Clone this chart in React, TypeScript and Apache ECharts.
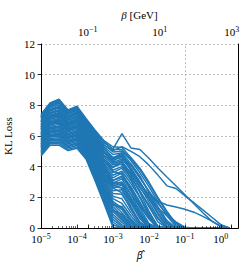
import { useEffect, useRef } from 'react';
import * as echarts from 'echarts';

// β̂ sample positions (quarter-decade steps)
const betaHat = [1e-5, 1.778e-5, 3.162e-5, 5.623e-5, 1e-4, 1.778e-4, 3.162e-4, 5.623e-4, 1e-3, 1.778e-3, 3.162e-3, 5.623e-3, 1e-2, 1.778e-2, 3.162e-2, 5.623e-2, 0.1, 0.1778, 0.3162, 0.5623, 1, 1.778];

// KL loss of each run
const r00 = [4.70, 5.40, 5.40, 5.05, 5.20, 4.50, 3.10, 1.60, 0.05, 0, 0, 0, 0, 0, 0, 0, 0, 0, 0, 0, 0, 0];
const r01 = [4.79, 5.49, 5.50, 5.13, 5.29, 4.59, 3.21, 1.73, 0.22, 0, 0, 0, 0, 0, 0, 0, 0, 0, 0, 0, 0, 0];
const r02 = [4.88, 5.58, 5.60, 5.22, 5.38, 4.67, 3.31, 1.87, 0.39, 0, 0, 0, 0, 0, 0, 0, 0, 0, 0, 0, 0, 0];
const r03 = [4.96, 5.67, 5.69, 5.31, 5.47, 4.76, 3.42, 2.00, 0.56, 0.10, 0, 0, 0, 0, 0, 0, 0, 0, 0, 0, 0, 0];
const r04 = [5.05, 5.75, 5.79, 5.39, 5.55, 4.84, 3.53, 2.13, 0.73, 0.20, 0, 0, 0, 0, 0, 0, 0, 0, 0, 0, 0, 0];
const r05 = [5.13, 5.84, 5.88, 5.48, 5.64, 4.93, 3.63, 2.26, 0.90, 0.35, 0, 0, 0, 0, 0, 0, 0, 0, 0, 0, 0, 0];
const r06 = [5.22, 5.93, 5.98, 5.56, 5.73, 5.01, 3.74, 2.40, 1.07, 0.50, 0, 0, 0, 0, 0, 0, 0, 0, 0, 0, 0, 0];
const r07 = [5.31, 6.02, 6.08, 5.65, 5.82, 5.10, 3.85, 2.53, 1.24, 0.60, 0.05, 0, 0, 0, 0, 0, 0, 0, 0, 0, 0, 0];
const r08 = [5.40, 6.11, 6.17, 5.73, 5.91, 5.18, 3.95, 2.66, 1.41, 0.80, 0.15, 0, 0, 0, 0, 0, 0, 0, 0, 0, 0, 0];
const r09 = [5.48, 6.20, 6.27, 5.82, 6.00, 5.27, 4.06, 2.79, 1.57, 1.00, 0.30, 0, 0, 0, 0, 0, 0, 0, 0, 0, 0, 0];
const r10 = [5.57, 6.29, 6.37, 5.91, 6.09, 5.36, 4.17, 2.92, 1.74, 1.30, 0.50, 0, 0, 0, 0, 0, 0, 0, 0, 0, 0, 0];
const r11 = [5.66, 6.38, 6.47, 5.99, 6.18, 5.44, 4.27, 3.06, 1.91, 1.60, 0.80, 0.10, 0, 0, 0, 0, 0, 0, 0, 0, 0, 0];
const r12 = [5.74, 6.46, 6.56, 6.08, 6.26, 5.53, 4.38, 3.19, 2.08, 1.90, 1.00, 0.20, 0, 0, 0, 0, 0, 0, 0, 0, 0, 0];
const r13 = [5.83, 6.55, 6.66, 6.16, 6.35, 5.61, 4.48, 3.32, 2.25, 2.20, 1.30, 0.40, 0, 0, 0, 0, 0, 0, 0, 0, 0, 0];
const r14 = [5.92, 6.64, 6.76, 6.25, 6.44, 5.70, 4.59, 3.45, 2.42, 2.50, 1.40, 0.30, 0, 0, 0, 0, 0, 0, 0, 0, 0, 0];
const r15 = [6.01, 6.73, 6.85, 6.33, 6.53, 5.78, 4.70, 3.58, 2.59, 2.80, 1.80, 0.70, 0, 0, 0, 0, 0, 0, 0, 0, 0, 0];
const r16 = [6.09, 6.82, 6.95, 6.42, 6.62, 5.87, 4.80, 3.72, 2.76, 2.90, 2.00, 1.00, 0.10, 0, 0, 0, 0, 0, 0, 0, 0, 0];
const r17 = [6.18, 6.91, 7.04, 6.50, 6.71, 5.95, 4.91, 3.85, 2.93, 3.20, 2.20, 1.10, 0.20, 0, 0, 0, 0, 0, 0, 0, 0, 0];
const r18 = [6.27, 7.00, 7.14, 6.59, 6.80, 6.04, 5.02, 3.98, 3.10, 3.30, 2.60, 1.60, 0.60, 0, 0, 0, 0, 0, 0, 0, 0, 0];
const r19 = [6.36, 7.09, 7.24, 6.67, 6.89, 6.12, 5.12, 4.11, 3.27, 3.60, 2.50, 1.30, 0.30, 0, 0, 0, 0, 0, 0, 0, 0, 0];
const r20 = [6.44, 7.17, 7.34, 6.76, 6.97, 6.21, 5.23, 4.25, 3.44, 3.70, 2.90, 2.00, 1.00, 0.10, 0, 0, 0, 0, 0, 0, 0, 0];
const r21 = [6.53, 7.26, 7.43, 6.84, 7.06, 6.29, 5.34, 4.38, 3.61, 3.90, 3.10, 2.00, 0.80, 0, 0, 0, 0, 0, 0, 0, 0, 0];
const r22 = [6.62, 7.35, 7.53, 6.93, 7.15, 6.38, 5.44, 4.51, 3.78, 4.00, 3.30, 2.40, 1.40, 0.40, 0, 0, 0, 0, 0, 0, 0, 0];
const r23 = [6.70, 7.44, 7.63, 7.02, 7.24, 6.47, 5.55, 4.64, 3.95, 4.20, 3.40, 2.30, 1.10, 0.10, 0, 0, 0, 0, 0, 0, 0, 0];
const r24 = [6.79, 7.53, 7.72, 7.10, 7.33, 6.55, 5.65, 4.77, 4.11, 4.30, 3.60, 2.70, 1.70, 0.70, 0, 0, 0, 0, 0, 0, 0, 0];
const r25 = [6.88, 7.62, 7.82, 7.19, 7.42, 6.64, 5.76, 4.90, 4.28, 4.50, 3.80, 2.90, 1.90, 0.90, 0.10, 0, 0, 0, 0, 0, 0, 0];
const r26 = [6.97, 7.71, 7.92, 7.27, 7.51, 6.72, 5.87, 5.04, 4.45, 4.60, 3.90, 3.00, 2.00, 1.00, 0.20, 0, 0, 0, 0, 0, 0, 0];
const r27 = [7.05, 7.80, 8.01, 7.36, 7.60, 6.81, 5.97, 5.17, 4.62, 4.70, 4.10, 3.30, 2.40, 1.40, 0.50, 0, 0, 0, 0, 0, 0, 0];
const r28 = [7.14, 7.88, 8.11, 7.44, 7.68, 6.89, 6.08, 5.30, 4.79, 4.90, 4.20, 3.40, 2.30, 1.20, 0.30, 0, 0, 0, 0, 0, 0, 0];
const r29 = [7.22, 7.97, 8.21, 7.53, 7.77, 6.98, 6.19, 5.43, 4.96, 5.00, 4.40, 3.60, 2.70, 1.70, 0.80, 0.10, 0, 0, 0, 0, 0, 0];
const r30 = [7.31, 8.06, 8.30, 7.61, 7.86, 7.07, 6.29, 5.57, 5.13, 5.10, 4.50, 3.80, 2.90, 1.90, 1.00, 0.20, 0, 0, 0, 0, 0, 0];
const r31 = [7.40, 8.15, 8.40, 7.70, 7.95, 7.15, 6.40, 5.70, 5.30, 5.25, 4.60, 3.90, 3.00, 2.00, 1.10, 0.30, 0, 0, 0, 0, 0, 0];
const r32 = [6.05, 6.78, 6.90, 6.38, 6.58, 5.80, 4.60, 3.20, 1.60, 1.20, 0.40, 0, 0, 0, 0, 0, 0, 0, 0, 0, 0, 0];
const r33 = [5.35, 6.06, 6.12, 5.69, 5.86, 5.10, 4.20, 3.30, 2.70, 2.60, 1.60, 0.60, 0, 0, 0, 0, 0, 0, 0, 0, 0, 0];
const r34 = [6.75, 7.48, 7.68, 7.06, 7.28, 6.50, 5.40, 4.20, 3.00, 2.80, 1.90, 0.90, 0.10, 0, 0, 0, 0, 0, 0, 0, 0, 0];
const r35 = [5.78, 6.50, 6.60, 6.12, 6.30, 5.55, 4.60, 3.70, 3.10, 3.40, 2.40, 1.50, 0.70, 0.10, 0, 0, 0, 0, 0, 0, 0, 0];
const r36 = [7.18, 7.92, 8.15, 7.48, 7.72, 6.92, 6.00, 5.00, 4.20, 4.40, 3.20, 2.00, 0.90, 0.10, 0, 0, 0, 0, 0, 0, 0, 0];
const r37 = [6.48, 7.22, 7.38, 6.80, 7.01, 6.25, 5.10, 3.90, 2.60, 2.30, 1.20, 0.30, 0, 0, 0, 0, 0, 0, 0, 0, 0, 0];
const r38 = [5.50, 6.24, 6.30, 5.86, 6.04, 5.30, 4.40, 3.50, 2.90, 3.00, 2.20, 1.40, 0.60, 0, 0, 0, 0, 0, 0, 0, 0, 0];
const r39 = [7.35, 8.10, 8.35, 7.66, 7.90, 7.10, 6.20, 5.20, 4.50, 4.80, 3.90, 3.00, 2.10, 1.20, 0.40, 0, 0, 0, 0, 0, 0, 0];
const r40 = [5.00, 5.70, 5.74, 5.35, 5.51, 4.80, 3.60, 2.40, 1.20, 0.70, 0.10, 0, 0, 0, 0, 0, 0, 0, 0, 0, 0, 0];
const r41 = [5.60, 6.32, 6.40, 5.94, 6.12, 5.40, 4.00, 2.70, 1.50, 1.40, 0.60, 0, 0, 0, 0, 0, 0, 0, 0, 0, 0, 0];
const r42 = [6.14, 6.86, 6.99, 6.46, 6.66, 5.91, 4.85, 3.78, 2.85, 2.60, 1.70, 0.80, 0, 0, 0, 0, 0, 0, 0, 0, 0, 0];
const r43 = [6.58, 7.30, 7.48, 6.88, 7.10, 6.33, 5.38, 4.45, 3.70, 3.50, 2.70, 1.70, 0.70, 0, 0, 0, 0, 0, 0, 0, 0, 0];
const r44 = [5.26, 5.97, 6.03, 5.60, 5.77, 5.05, 3.80, 2.46, 1.15, 0.90, 0.20, 0, 0, 0, 0, 0, 0, 0, 0, 0, 0, 0];
const r45 = [6.92, 7.66, 7.87, 7.23, 7.46, 6.68, 5.82, 4.97, 4.35, 4.10, 3.30, 2.40, 1.50, 0.60, 0, 0, 0, 0, 0, 0, 0, 0];
const rA = [7.25, 7.98, 8.28, 7.58, 7.82, 7.08, 6.32, 5.62, 5.15, 6.15, 5.22, 5.12, 4.55, 3.92, 3.33, 2.75, 2.16, 1.58, 1.00, 0.45, 0.08, 0];
const rB = [6.95, 7.68, 7.93, 7.25, 7.52, 6.80, 6.05, 5.40, 5.05, 5.30, 5.00, 4.65, 4.10, 3.45, 2.75, 2.58, 2.10, 1.65, 1.18, 0.70, 0.22, 0];
const rC = [6.60, 7.30, 7.50, 6.90, 7.10, 6.40, 5.60, 4.90, 4.55, 4.90, 3.70, 2.85, 2.20, 1.75, 1.50, 1.37, 1.22, 1.03, 0.76, 0.45, 0.12, 0];
const rD = [6.40, 7.10, 7.30, 6.70, 6.90, 6.20, 5.40, 4.70, 4.35, 4.75, 4.10, 3.25, 2.40, 1.60, 0.90, 0.40, 0.05, 0, 0, 0, 0, 0];
const rE = [6.20, 6.90, 7.10, 6.50, 6.70, 6.00, 5.20, 4.40, 3.95, 4.35, 3.50, 2.60, 1.90, 1.30, 0.80, 0.35, 0, 0, 0, 0, 0, 0];

const runs = [
  r00, r01, r02, r03, r04, r05, r06, r07, r08, r09, r10, r11, r12, r13, r14, r15, r16, r17, r18, r19,
  r20, r21, r22, r23, r24, r25, r26, r27, r28, r29, r30, r31, r32, r33, r34, r35, r36, r37, r38, r39,
  r40, r41, r42, r43, r44, r45, rA, rB, rC, rD, rE,
];

// axis ticks
const bottomMajorTicks = [1e-5, 1e-4, 1e-3, 1e-2, 1e-1, 1];
const bottomMinorTicks = [
  2e-5, 3e-5, 4e-5, 5e-5, 6e-5, 7e-5, 8e-5, 9e-5,
  2e-4, 3e-4, 4e-4, 5e-4, 6e-4, 7e-4, 8e-4, 9e-4,
  2e-3, 3e-3, 4e-3, 5e-3, 6e-3, 7e-3, 8e-3, 9e-3,
  2e-2, 3e-2, 4e-2, 5e-2, 6e-2, 7e-2, 8e-2, 9e-2,
  0.2, 0.3, 0.4, 0.5, 0.6, 0.7, 0.8, 0.9, 2,
];
const topTicks = [0.1, 10, 1000];
const verticalGrid = [1e-3, 1e-1];
const xMin = 1e-5;
const xMax = 3;
const gevPerUnit = 500;

const F = '"Liberation Serif", "DejaVu Serif", serif';
const BLUE = '#1f77b4';

const pow10Label = (v: number) => {
  const e = Math.round(Math.log10(v));
  return `{b|10}{s|${e < 0 ? '\u2212' : ''}${Math.abs(e)}}`;
};
const powRich = {
  b: { fontFamily: F, fontSize: 11, color: '#000', lineHeight: 14 },
  s: { fontFamily: F, fontSize: 8, color: '#000', lineHeight: 7, verticalAlign: 'top' },
};

export default function App() {
  const ref = useRef<HTMLDivElement>(null);
  useEffect(() => {
    if (!ref.current) return;
    const chart = echarts.init(ref.current, undefined, { renderer: 'svg' });
    const lineSeries = runs.map((run) => ({
      type: 'line',
      xAxisIndex: 0,
      yAxisIndex: 0,
      data: betaHat.map((x, i) => [x, run[i]]),
      showSymbol: false,
      symbol: 'none',
      lineStyle: { color: BLUE, width: 1.45 },
      z: 2,
      silent: true,
    }));
    chart.setOption({
      animation: false,
      backgroundColor: '#fff',
      grid: { left: 41, right: 13, top: 44, bottom: 49, containLabel: false, outerBoundsMode: 'none' },
      xAxis: [
        {
          type: 'log',
          logBase: 10,
          min: xMin,
          max: xMax,
          position: 'bottom',
          z: 3,
          name: 'β\u0302',
          nameLocation: 'middle',
          nameGap: 22,
          nameTextStyle: { fontFamily: '"Noto Sans", sans-serif', fontSize: 10, fontStyle: 'italic', color: '#000' },
          axisLine: { show: true, lineStyle: { color: '#000', width: 1 } },
          axisTick: { show: true, inside: true, length: 3.5, customValues: bottomMajorTicks, lineStyle: { color: '#000', width: 0.8 } },
          axisLabel: { show: true, customValues: bottomMajorTicks, margin: 4, formatter: pow10Label, rich: powRich },
          splitLine: { show: false },
          minorTick: { show: false },
        },
        {
          type: 'log',
          logBase: 10,
          min: xMin * gevPerUnit,
          max: xMax * gevPerUnit,
          position: 'top',
          name: '{i|β} [GeV]',
          nameLocation: 'middle',
          nameGap: 21,
          nameTextStyle: {
            fontFamily: F,
            fontSize: 11,
            color: '#000',
            rich: { i: { fontFamily: F, fontSize: 11, fontStyle: 'italic', color: '#000' } },
          },
          axisLine: { show: true, lineStyle: { color: '#000', width: 1 } },
          axisTick: { show: true, inside: false, length: 3.5, customValues: topTicks, lineStyle: { color: '#000', width: 0.8 } },
          axisLabel: { show: true, customValues: topTicks, margin: 5, formatter: pow10Label, rich: powRich },
          splitLine: { show: false },
        },
        {
          type: 'log',
          logBase: 10,
          min: xMin,
          max: xMax,
          position: 'bottom',
          z: 3,
          axisLine: { show: false },
          axisTick: { show: true, inside: true, length: 2, customValues: bottomMinorTicks, lineStyle: { color: '#000', width: 0.6 } },
          axisLabel: { show: false },
          splitLine: { show: false },
        },
      ],
      yAxis: [
        {
          type: 'value',
          min: 0,
          max: 12,
          interval: 2,
          position: 'left',
          name: 'KL Loss',
          nameLocation: 'middle',
          nameGap: 24,
          nameTextStyle: { fontFamily: F, fontSize: 11, color: '#000' },
          axisLine: { show: true, lineStyle: { color: '#000', width: 1 } },
          axisTick: { show: true, inside: false, length: 3.5, lineStyle: { color: '#000', width: 0.8 } },
          axisLabel: { fontFamily: F, fontSize: 11, color: '#000', margin: 6 },
          splitLine: { show: true, lineStyle: { color: '#b0b0b0', type: [2, 2], width: 0.8 } },
        },
        {
          type: 'value',
          min: 0,
          max: 12,
          position: 'right',
          axisLine: { show: true, lineStyle: { color: '#000', width: 1 } },
          axisTick: { show: false },
          axisLabel: { show: false },
          splitLine: { show: false },
        },
      ],
      series: [
        {
          type: 'line',
          xAxisIndex: 0,
          yAxisIndex: 0,
          data: [],
          silent: true,
          z: 1,
          markLine: {
            silent: true,
            z: 1,
            symbol: 'none',
            label: { show: false },
            lineStyle: { color: '#b0b0b0', type: [2, 2], width: 0.8 },
            data: verticalGrid.map((v) => ({ xAxis: v })),
          },
        },
        ...lineSeries,
      ],
    });
    return () => chart.dispose();
  }, []);
  return <div ref={ref} style={{ position: 'fixed', left: 0, top: 0, width: 251, height: 277 }} />;
}
